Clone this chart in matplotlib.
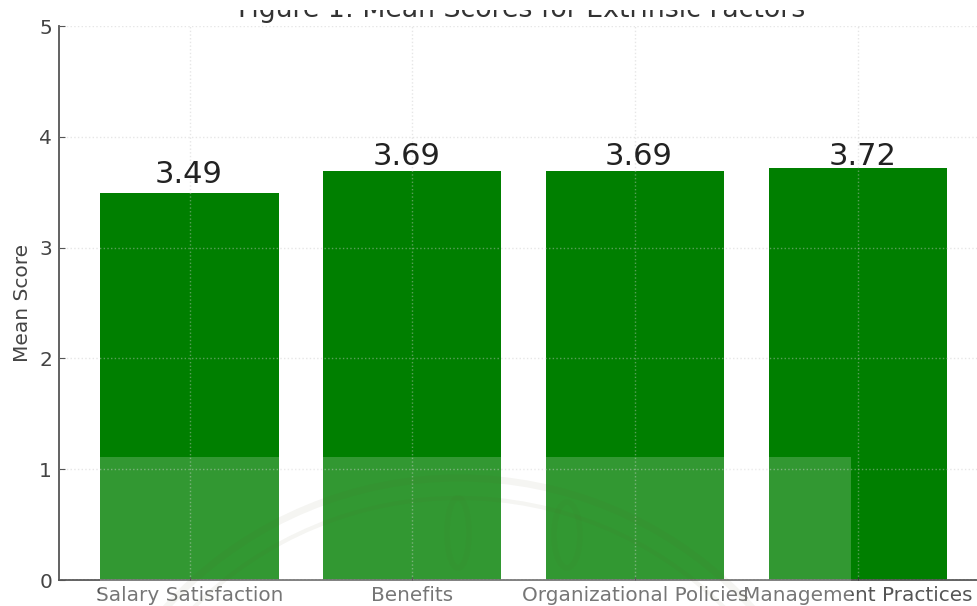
import matplotlib.pyplot as plt
from matplotlib.patches import Ellipse, Rectangle

# Mean score per extrinsic factor
factors = ["Salary Satisfaction", "Benefits", "Organizational Policies", "Management Practices"]
mean_scores = [3.49, 3.69, 3.69, 3.72]
y_ticks = [0, 1, 2, 3, 4, 5]

W, H = 977, 606

fig = plt.figure(figsize=(W / 100, H / 100), dpi=100)
ax = fig.add_axes([59 / W, 1 - 580 / H, 1 - 59 / W, (580 - 26) / H])

ax.set_axisbelow(False)
bars = ax.bar(factors, mean_scores, width=0.8, color="#007f00")

# Value labels above each bar, nudged by hand in pixels
nudges = [(-1, 10.5), (-5.5, 6), (4, 6), (5, 3)]
for rect, score, nudge in zip(bars, mean_scores, nudges):
    ax.annotate("%.2f" % score, (rect.get_x() + rect.get_width() / 2, score),
                xytext=nudge, textcoords="offset pixels",
                ha="center", va="baseline", fontsize=22, color="#222222")

ax.set_xlim(-0.586, 3.536)
ax.set_ylim(0, 5)
ax.set_yticks(y_ticks)
ax.grid(True, color="#c8c8c8", linestyle=":", linewidth=1.0, alpha=0.45)
ax.tick_params(axis="x", direction="in", length=2, color="#333333",
               labelsize=14.4, labelcolor="#555555", pad=4)
ax.tick_params(axis="y", direction="in", length=4, color="#555555",
               labelsize=14.5, labelcolor="#444444", pad=5)
ax.set_ylabel("Mean Score", fontsize=14.5, color="#444444", labelpad=5)

for side in ["top", "right"]:
    ax.spines[side].set_visible(False)
for side in ["left", "bottom"]:
    ax.spines[side].set_color("#555555")
    ax.spines[side].set_linewidth(1.3)

# Title, with its upper half lost at the top of the page
fig.text(522 / W, 1 - 17 / H, "Figure 1: Mean Scores for Extrinsic Factors",
         ha="center", va="baseline", fontsize=19.3, color="#333333")
fig.add_artist(Rectangle((0, 1 - 10 / H), 1, 10 / H, transform=fig.transFigure,
                         facecolor="white", edgecolor="none", zorder=5))

# Pale stamp laid over the lower part of the page
fig.add_artist(Rectangle((100 / W, 0), 751 / W, (606 - 457) / H,
                         transform=fig.transFigure, facecolor="white",
                         edgecolor="none", alpha=0.2))
for d, lw in [(792, 5), (752, 3)]:
    fig.add_artist(Ellipse((459 / W, 1 - 874 / H), d / W, d / H, transform=fig.transFigure,
                           fill=False, edgecolor="#5a5a2a", linewidth=lw, alpha=0.06))
fig.add_artist(Ellipse((458 / W, 1 - 533 / H), 22 / W, 70 / H, transform=fig.transFigure,
                       fill=False, edgecolor="#5a5a2a", linewidth=4, alpha=0.04))
fig.add_artist(Ellipse((567 / W, 1 - 535 / H), 26 / W, 66 / H, transform=fig.transFigure,
                       fill=False, edgecolor="#5a5a2a", linewidth=4, alpha=0.04))

fig.savefig("out.png", dpi=100)
